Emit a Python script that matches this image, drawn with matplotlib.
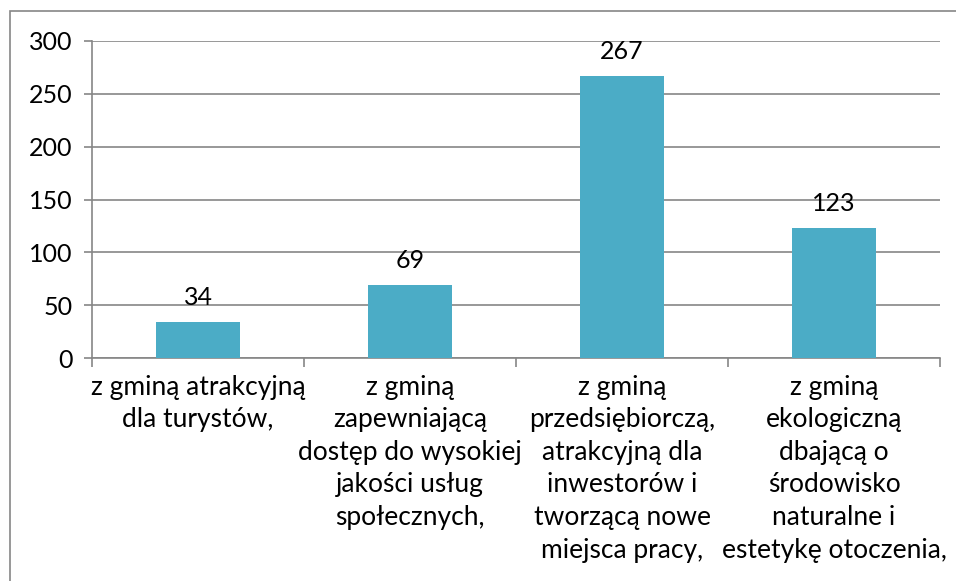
import numpy as np
import matplotlib.pyplot as plt
from matplotlib.patches import Rectangle

categories = [
    'z gminą atrakcyjną\ndla turystów,',
    'z gminą\nzapewniającą\ndostęp do wysokiej\njakości usług\nspołecznych,',
    'z gminą\nprzedsiębiorczą,\natrakcyjną dla\ninwestorów i\ntworzącą nowe\nmiejsca pracy,',
    'z gminą\nekologiczną\ndbającą o\nśrodowisko\nnaturalne i\nestetykę otoczenia,',
]
values = [34, 69, 267, 123]
y_ticks = [0, 50, 100, 150, 200, 250, 300]

plt.rcParams['font.family'] = ['Lato', 'DejaVu Sans']
grey = '#868686'
bar_color = '#4BACC6'

fig = plt.figure(figsize=(9.56, 5.81), dpi=100)
ax = fig.add_axes([92 / 956, 1 - 358 / 581, 848 / 956, 317 / 581])

x = np.arange(len(categories))
ax.bar(x, values, width=0.4, color=bar_color, zorder=3)
for xi, v in zip(x, values):
    ax.text(xi, v + 12, str(v), ha='center', va='bottom', fontsize=18, color='black')

ax.set_xlim(-0.5, len(categories) - 0.5)
ax.set_ylim(0, 300)
ax.set_yticks(y_ticks)
ax.set_yticklabels([str(t) for t in y_ticks], fontsize=18)
ax.yaxis.grid(True, color=grey, linewidth=1.2, zorder=0)
ax.tick_params(axis='y', length=6, width=1.2, color=grey, pad=8)

ax.set_xticks(x)
ax.set_xticklabels(categories, fontsize=19, linespacing=1.38)
ax.set_xticks(np.arange(-0.5, len(categories)), minor=True)
ax.tick_params(axis='x', which='major', length=0, pad=12)
ax.tick_params(axis='x', which='minor', length=6.5, width=1.2, color=grey)

for side in ['top', 'right']:
    ax.spines[side].set_visible(False)
for side in ['left', 'bottom']:
    ax.spines[side].set_color(grey)
    ax.spines[side].set_linewidth(1.2)

# outer chart border
fig.patches.append(Rectangle((10 / 956, -0.1), 1.2, 1 - 11 / 581 + 0.1,
                             transform=fig.transFigure, fill=False,
                             edgecolor=grey, linewidth=1.2))

fig.savefig('out.png', dpi=100)
